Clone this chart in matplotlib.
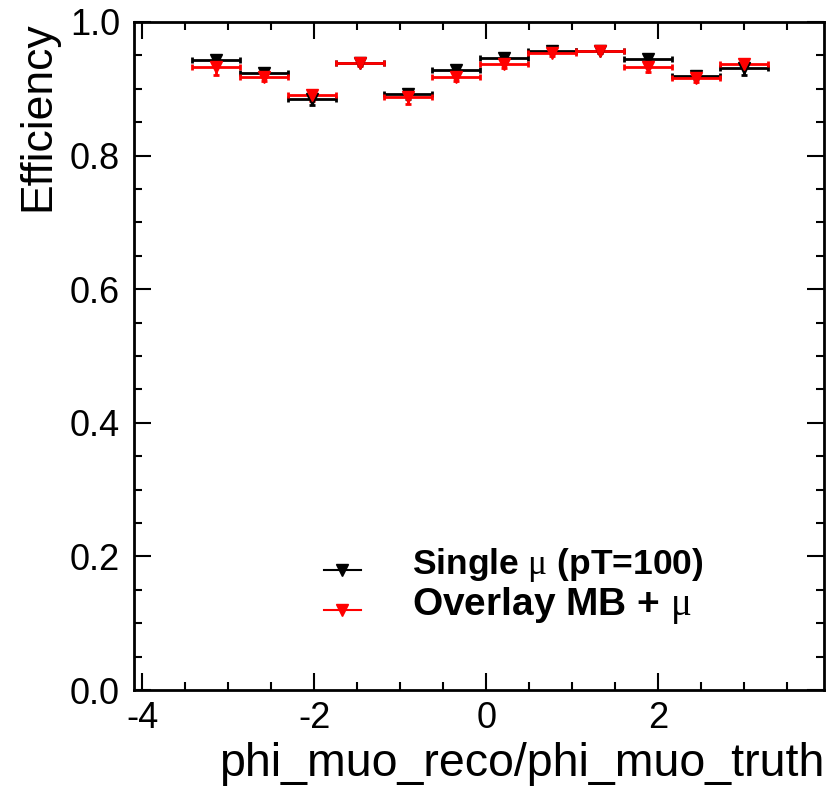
import numpy as np
import matplotlib
matplotlib.use("Agg")
import matplotlib.pyplot as plt
from matplotlib.lines import Line2D
from matplotlib.ticker import MultipleLocator

plt.rcParams['font.family'] = ['Liberation Sans', 'DejaVu Sans']
plt.rcParams['mathtext.fontset'] = 'custom'
plt.rcParams['mathtext.it'] = 'Liberation Serif'
plt.rcParams['mathtext.rm'] = 'Liberation Serif'
plt.rcParams['axes.unicode_minus'] = False

# bin edges (12 bins in phi)
edges = np.linspace(-3.42, 3.276, 13)

# efficiencies
eff_single = [0.943, 0.923, 0.885, 0.939, 0.892, 0.928, 0.946, 0.957, 0.957, 0.944, 0.919, 0.931]
err_single = [0.006, 0.005, 0.009, 0.004, 0.007, 0.005, 0.005, 0.004, 0.004, 0.005, 0.005, 0.010]
eff_overlay = [0.932, 0.918, 0.890, 0.938, 0.887, 0.917, 0.937, 0.954, 0.957, 0.933, 0.916, 0.937]
err_overlay = [0.012, 0.006, 0.008, 0.004, 0.010, 0.006, 0.006, 0.005, 0.004, 0.008, 0.006, 0.006]

centers = 0.5 * (edges[:-1] + edges[1:])
halfw = 0.5 * np.diff(edges)

fig = plt.figure(figsize=(8.31, 7.95), dpi=100)
ax = fig.add_axes([0.161, 0.132, 0.831, 0.8405])

for y, e, col in [(eff_single, err_single, 'black'), (eff_overlay, err_overlay, 'red')]:
    ax.errorbar(centers, y, xerr=halfw, yerr=e, fmt='v', color=col, ms=9,
                elinewidth=2, capsize=2.5, capthick=2, mec=col, mfc=col)

ax.set_xlim(-4.1, 3.93)
ax.set_ylim(0.0, 1.0)
ax.xaxis.set_major_locator(MultipleLocator(2))
ax.xaxis.set_minor_locator(MultipleLocator(0.5))
ax.yaxis.set_major_locator(MultipleLocator(0.2))
ax.yaxis.set_minor_locator(MultipleLocator(0.05))
ax.yaxis.set_major_formatter(matplotlib.ticker.FormatStrFormatter('%.1f'))
ax.tick_params(which='both', direction='in', top=True, right=True, width=1.5,
               labelsize=26)
ax.tick_params(which='major', length=12)
ax.tick_params(which='minor', length=6)
ax.tick_params(axis='x', pad=8)
ax.tick_params(axis='y', pad=10)
for s in ax.spines.values():
    s.set_linewidth(2)

ax.set_xlabel('phi_muo_reco/phi_muo_truth', fontsize=33.5, ha='right', x=1.0, labelpad=4)
ax.set_ylabel('Efficiency', fontsize=32, ha='right', y=1.0, labelpad=8)

handles = [Line2D([], [], color='black', marker='v', ms=8, lw=1.5),
           Line2D([], [], color='red', marker='v', ms=8, lw=1.5)]
leg = ax.legend(handles, ['Single $\\mu$ (pT=100)', 'Overlay MB + $\\mu$'],
                loc='lower left', bbox_to_anchor=(0.257, 0.077), frameon=False,
                handlelength=2.65, handletextpad=3.7, labelspacing=0.05)
leg.get_texts()[0].set_fontsize(25.5)
leg.get_texts()[0].set_fontweight('bold')
leg.get_texts()[1].set_fontsize(28)
leg.get_texts()[1].set_fontweight('bold')

fig.savefig('out.png', dpi=100)
